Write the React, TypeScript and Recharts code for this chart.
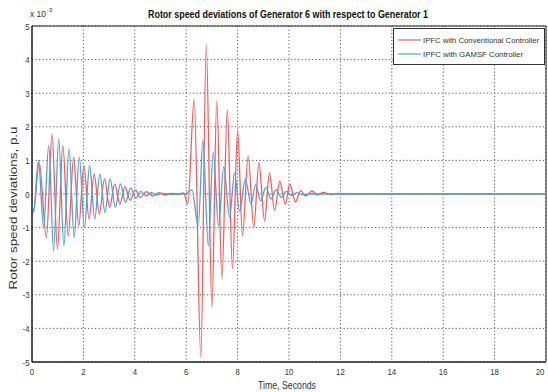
import React from 'react';
import { LineChart, Line, XAxis, YAxis, CartesianGrid, ReferenceArea } from 'recharts';

// Time (s) and rotor speed deviation (x 10^-3 p.u) read at the extrema of each trace
const convT = [0, 0.06, 0.28, 0.56, 0.78, 0.99, 1.2, 1.41, 1.62, 1.82, 2.02, 2.22, 2.42, 2.62, 2.82, 3.02, 3.22, 3.42, 3.62, 3.82, 4.02, 4.22, 4.45, 4.7, 4.95, 5.2, 5.45, 5.7, 5.9, 6.06, 6.31, 6.57, 6.78, 7.0, 7.19, 7.39, 7.6, 7.8, 8.0, 8.19, 8.41, 8.63, 8.83, 9.05, 9.24, 9.44, 9.64, 9.86, 10.03, 10.25, 10.45, 10.65, 10.9, 11.1, 11.35, 11.6, 11.9, 12.3, 16, 20];
const convV = [-0.3, -0.5, 0.95, -1.3, 1.78, -1.65, 1.45, -1.25, 1.1, -0.95, 0.85, -0.75, 0.6, -0.6, 0.45, -0.4, 0.3, -0.3, 0.22, -0.18, 0.12, -0.1, 0.07, -0.06, 0.04, -0.03, 0.02, 0, 0.03, -0.3, 2.82, -4.87, 4.45, -3.38, 2.77, -2.54, 2.5, -2.22, 1.9, -1.25, 1.13, -1.0, 0.93, -0.8, 0.63, -0.5, 0.38, -0.3, 0.29, -0.23, 0.1, -0.06, 0.09, -0.03, 0.05, -0.02, 0.02, 0, 0, 0];

const gamsfT = [0, 0.06, 0.25, 0.45, 0.65, 0.84, 1.04, 1.24, 1.44, 1.64, 1.84, 2.04, 2.24, 2.44, 2.64, 2.84, 3.04, 3.24, 3.44, 3.64, 3.84, 4.04, 4.24, 4.44, 4.64, 4.84, 5.1, 5.4, 5.8, 6.0, 6.22, 6.47, 6.65, 6.86, 7.05, 7.26, 7.46, 7.69, 7.88, 8.08, 8.3, 8.52, 8.7, 8.9, 9.1, 9.3, 9.5, 9.7, 9.9, 10.1, 10.3, 10.5, 10.8, 14, 20];
const gamsfV = [-0.3, -0.55, 1.0, -1.0, 1.45, -1.7, 1.65, -1.55, 1.35, -1.3, 1.1, -1.0, 0.85, -0.75, 0.6, -0.55, 0.45, -0.4, 0.3, -0.25, 0.18, -0.12, 0.08, -0.06, 0.04, -0.03, 0.02, -0.01, 0, 0.02, 0.12, -0.95, 1.6, -1.55, 1.24, -0.95, 0.82, -0.7, 0.63, -0.52, 0.44, -0.3, 0.27, -0.2, 0.2, -0.15, 0.13, -0.1, 0.08, -0.05, 0.04, -0.02, 0, 0, 0];

const xTicks = [0, 2, 4, 6, 8, 10, 12, 14, 16, 18, 20];
const yTicks = [-5, -4, -3, -2, -1, 0, 1, 2, 3, 4, 5];

const seriesNames = ['IPFC with Conventional Controller', 'IPFC with GAMSF Controller'];
const title = 'Rotor speed deviations of Generator 6 with respect to Generator 1';
const xLabel = 'Time, Seconds';
const yLabel = 'Rotor speed deviations, p.u';

const RED = '#ff5858';
const BLUE = '#4aa2de';
const FONT = 'Liberation Sans, Arial, sans-serif';

const convData = convT.map((t, i) => ({ t, v: convV[i] }));
const gamsfData = gamsfT.map((t, i) => ({ t, v: gamsfV[i] }));

function XTick(props: any) {
  const { x, payload } = props;
  return (
    <g transform={`translate(${x},375) scale(0.82,1)`}>
      <text x={0} y={0} textAnchor="middle" fontSize={9.5} fontFamily={FONT} fill="#333">
        {payload.value}
      </text>
    </g>
  );
}

function YTick(props: any) {
  const { y, payload } = props;
  return (
    <g transform={`translate(29.5,${y + 3.5}) scale(0.82,1)`}>
      <text x={0} y={0} textAnchor="end" fontSize={9.5} fontFamily={FONT} fill="#333">
        {payload.value}
      </text>
    </g>
  );
}

export default function App() {
  return (
    <div style={{ position: 'absolute', left: 0, top: 0, width: 548, height: 392, background: '#fff' }}>
      <LineChart
        width={548}
        height={392}
        margin={{ top: 26, right: 2, bottom: 0, left: 0 }}
      >
        <CartesianGrid
          stroke="#555"
          strokeDasharray="1.2 2.3"
          horizontalValues={yTicks}
          verticalValues={xTicks}
        />
        <XAxis
          dataKey="t"
          type="number"
          domain={[0, 20]}
          ticks={xTicks}
          height={30}
          tickLine={false}
          axisLine={{ stroke: '#222' }}
          tick={<XTick />}
          allowDataOverflow
        />
        <YAxis
          dataKey="v"
          type="number"
          domain={[-5, 5]}
          ticks={yTicks}
          width={32}
          tickLine={false}
          axisLine={{ stroke: '#222' }}
          tick={<YTick />}
          allowDataOverflow
        />
        <ReferenceArea x1={0} x2={20} y1={-5} y2={5} fill="none" stroke="#222" strokeWidth={1} />
        <Line
          data={convData}
          dataKey="v"
          type="monotone"
          stroke={RED}
          strokeWidth={1.3}
          dot={false}
          isAnimationActive={false}
        />
        <Line
          data={gamsfData}
          dataKey="v"
          type="monotone"
          stroke={BLUE}
          strokeWidth={1.3}
          dot={false}
          isAnimationActive={false}
        />
      </LineChart>
      <svg
        width={548}
        height={392}
        style={{ position: 'absolute', left: 0, top: 0, pointerEvents: 'none' }}
      >
        <text x={288} y={18} textAnchor="middle" fontSize={10} fontWeight="bold" fontFamily={FONT} fill="#111" textLength={280} lengthAdjust="spacingAndGlyphs">
          {title}
        </text>
        <text x={30} y={17} fontSize={8.5} fontFamily={FONT} fill="#333" textLength={16} lengthAdjust="spacingAndGlyphs">x 10</text>
        <text x={47} y={11.5} fontSize={6} fontFamily={FONT} fill="#333">-3</text>
        <rect x={393.5} y={28.5} width={151} height={36} fill="#fff" stroke="#333" strokeWidth={1} />
        <line x1={398} x2={421} y1={40} y2={40} stroke={RED} strokeWidth={1.2} />
        <line x1={398} x2={421} y1={54} y2={54} stroke={BLUE} strokeWidth={1.2} />
        <text x={423} y={43} fontSize={8} fontFamily={FONT} fill="#333" textLength={116} lengthAdjust="spacingAndGlyphs">
          {seriesNames[0]}
        </text>
        <text x={423} y={57} fontSize={8} fontFamily={FONT} fill="#333" textLength={100} lengthAdjust="spacingAndGlyphs">
          {seriesNames[1]}
        </text>
        <text x={287} y={389} textAnchor="middle" fontSize={10} fontFamily={FONT} fill="#333" textLength={58} lengthAdjust="spacingAndGlyphs">
          {xLabel}
        </text>
        <g transform="translate(16.5,208) rotate(-90)">
          <text x={0} y={0} textAnchor="middle" fontSize={10} fontFamily={FONT} fill="#333" textLength={163} lengthAdjust="spacingAndGlyphs">
            {yLabel}
          </text>
        </g>
      </svg>
    </div>
  );
}
